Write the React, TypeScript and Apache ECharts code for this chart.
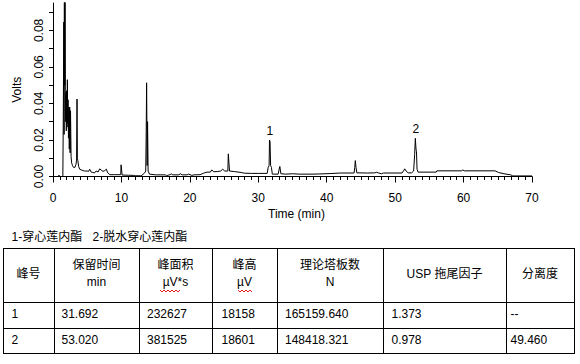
import React, { useEffect, useRef } from 'react';
import * as echarts from 'echarts';

// ---- chromatogram trace (time in min, signal in V) ----
const times = [
  0, 0.85, 0.88, 0.92, 1.44, 1.5, 1.58, 1.62, 1.66, 1.72, 1.76, 1.8, 1.86, 1.91, 1.95, 2.0, 2.05, 2.1, 2.15, 2.2,
  2.26, 2.32, 2.38, 2.44, 2.5, 2.56, 2.64, 2.72, 2.85, 3.0, 3.2, 3.35, 3.45, 3.51, 3.56, 3.62, 3.75, 3.9, 4.2, 4.6,
  5.0, 5.2, 5.36, 5.55, 5.8, 6.09, 6.3, 6.6, 6.82, 7.05, 7.3, 7.55, 7.8, 8.0, 8.3, 9.0, 9.9, 9.95, 10.05, 10.1,
  11.0, 11.8, 12.0, 12.8, 13.0, 13.4, 13.55, 13.62, 13.68, 13.76, 13.82, 13.9, 14.1, 15.0, 16.4, 16.6, 17.0, 17.3, 17.5, 18.4,
  18.6, 18.9, 19.6, 19.8, 20.3, 20.6, 21.5, 22.0, 22.5, 23.0, 23.2, 23.5, 24.0, 24.5, 24.8, 25.1, 25.55, 25.62, 25.7, 25.8,
  26.5, 27.5, 28.0, 29.0, 30.0, 31.3, 31.45, 31.58, 31.64, 31.72, 31.8, 31.92, 32.05, 32.9, 33.05, 33.15, 33.3, 34.0, 35.0, 36.0,
  38.0, 39.0, 40.5, 42.0, 44.0, 44.1, 44.18, 44.28, 44.4, 46.0, 47.0, 47.3, 47.6, 48.0, 48.3, 51.0, 51.3, 51.4, 51.6, 51.9,
  52.4, 52.7, 52.85, 52.95, 53.05, 53.12, 53.2, 53.35, 56.0, 56.1, 59.7, 59.9, 60.1, 64.6, 65.1, 65.9, 66.9, 67.2, 70.0
];
const volts = [
  0, 0, 0.0008, 0, 0, 0.03, 0.0845, 0.023, 0.12, 0.05, 0.12, 0.047, 0.03, 0.046, 0.025, 0.047, 0.027, 0.053, 0.029, 0.042,
  0.021, 0.038, 0.015, 0.038, 0.013, 0.036, 0.011, 0.0075, 0.006, 0.005, 0.005, 0.0065, 0.009, 0.0424, 0.01, 0.009, 0.0055, 0.004, 0.0035, 0.003,
  0.003, 0.0028, 0.004, 0.0025, 0.0022, 0.002, 0.003, 0.0025, 0.0042, 0.0035, 0.0028, 0.0032, 0.004, 0.002, 0.001, 0.001, 0.001, 0.0064, 0.0064, 0.0008,
  0.0007, 0.0006, 0.0004, 0.0004, 0.0007, 0.002, 0.003, 0.024, 0.0513, 0.006, 0.03, 0.003, 0.0013, 0.0009, 0.0009, 0.0005, 0.0009, 0.0014, 0.0009, 0.0009,
  0.0015, 0.0009, 0.0009, 0.0013, 0.0006, 0.0009, 0.001, 0.0018, 0.0024, 0.0024, 0.0036, 0.0026, 0.0027, 0.003, 0.004, 0.003, 0.003, 0.0124, 0.008, 0.003,
  0.0027, 0.0022, 0.0018, 0.0017, 0.0017, 0.0017, 0.005, 0.006, 0.02, 0.019, 0.006, 0.005, 0.0013, 0.0013, 0.004, 0.0055, 0.0015, 0.0013, 0.0015, 0.0013,
  0.0013, 0.0014, 0.0016, 0.0019, 0.0019, 0.005, 0.0087, 0.005, 0.002, 0.0019, 0.002, 0.0023, 0.0019, 0.0015, 0.0019, 0.0019, 0.0035, 0.0042, 0.003, 0.002,
  0.002, 0.003, 0.012, 0.0209, 0.015, 0.0136, 0.004, 0.0024, 0.0024, 0.0031, 0.0031, 0.0036, 0.0031, 0.0031, 0.0022, 0.0015, 0.0009, 0.0003, 0.0003
];

const peakNames = ['1', '2'];
const peakTimes = [31.692, 53.02];
const peakTops = [0.02, 0.0209];

const yTickValues = [0, 0.01, 0.02, 0.03, 0.04, 0.05, 0.06, 0.07, 0.08, 0.09];
const yLabelValues = [0, 0.02, 0.04, 0.06, 0.08];

// ---- legend text and result table ----
const compoundLabels = ['1-穿心莲内酯', '2-脱水穿心莲内酯'];
const headerLines = [
  ['峰号'],
  ['保留时间', 'min'],
  ['峰面积', 'µV*s'],
  ['峰高', 'µV'],
  ['理论塔板数', 'N'],
  ['USP 拖尾因子'],
  ['分离度'],
];
const peakNumbers = ['1', '2'];
const retentionTimes = ['31.692', '53.020'];
const peakAreas = ['232627', '381525'];
const peakHeights = ['18158', '18601'];
const plateCounts = ['165159.640', '148418.321'];
const tailingFactors = ['1.373', '0.978'];
const resolutions = ['--', '49.460'];

const FONT = '"Liberation Sans", Arial, "Noto Sans CJK SC", sans-serif';

function buildGraphic() {
  const colX = [3, 54, 139, 212, 277, 383, 506, 574];
  const rowY = [248, 302, 328, 353];
  const cellPad = [8.5, 7.5, 8, 9.5, 8, 8.5, 4.5];
  const els: any[] = [];
  const txt = (x: number, y: number, text: string, align: string) => ({
    type: 'text',
    x,
    y,
    silent: true,
    style: {
      text,
      fill: '#000',
      fontSize: 12,
      fontFamily: FONT,
      align,
      verticalAlign: 'middle',
      textAlign: align,
      textVerticalAlign: 'middle',
    },
  });

  // legend line
  const legendX = [11.5, 92.5];
  compoundLabels.forEach((t, i) => els.push(txt(legendX[i], 236.5, t, 'left')));

  // grid lines
  rowY.forEach((y) =>
    els.push({
      type: 'line',
      silent: true,
      shape: { x1: colX[0], y1: y + 0.5, x2: colX[colX.length - 1] + 1, y2: y + 0.5 },
      style: { stroke: '#000', lineWidth: 1 },
    })
  );
  colX.forEach((x) =>
    els.push({
      type: 'line',
      silent: true,
      shape: { x1: x + 0.5, y1: rowY[0], x2: x + 0.5, y2: rowY[rowY.length - 1] + 1 },
      style: { stroke: '#000', lineWidth: 1 },
    })
  );

  // header
  const headMid = (rowY[0] + rowY[1]) / 2 - 1.5;
  headerLines.forEach((lines, c) => {
    const cx = (colX[c] + colX[c + 1]) / 2;
    if (lines.length === 1) {
      els.push(txt(cx, headMid, lines[0], 'center'));
    } else {
      els.push(txt(cx, headMid - 8.5, lines[0], 'center'));
      els.push(txt(cx, headMid + 8.5, lines[1], 'center'));
    }
  });

  // red spell-check squiggles under the µV units
  const squiggle = (x0: number, x1: number, y: number) => {
    const pts: number[][] = [];
    let up = true;
    for (let x = x0; x <= x1; x += 2) {
      pts.push([x, up ? y : y + 2]);
      up = !up;
    }
    return {
      type: 'polyline',
      silent: true,
      shape: { points: pts },
      style: { stroke: '#e02020', lineWidth: 1, fill: null },
    };
  };
  els.push(squiggle(160, 180, 290));
  els.push(squiggle(238, 253, 290));

  // body rows
  const cols = [peakNumbers, retentionTimes, peakAreas, peakHeights, plateCounts, tailingFactors, resolutions];
  for (let r = 0; r < peakNumbers.length; r++) {
    const cy = (rowY[r + 1] + rowY[r + 2]) / 2 - 1;
    cols.forEach((col, c) => els.push(txt(colX[c] + cellPad[c], cy, col[r], 'left')));
  }
  return els;
}

export default function App() {
  const ref = useRef<HTMLDivElement>(null);
  useEffect(() => {
    if (!ref.current) return;
    const chart = echarts.init(ref.current, undefined, { renderer: 'svg' });
    const data = times.map((t, i) => [t, volts[i]]);
    chart.setOption({
      animation: false,
      backgroundColor: '#fff',
      textStyle: { fontFamily: FONT },
      grid: { left: 53, right: 48, top: 3, bottom: 187.5, containLabel: false },
      xAxis: {
        type: 'value',
        min: 0,
        max: 70,
        interval: 10,
        offset: 6.5,
        axisLine: { show: true, lineStyle: { color: '#000', width: 1 } },
        axisTick: { show: true, length: 6, lineStyle: { color: '#000', width: 1 } },
        minorTick: { show: true, splitNumber: 10, length: 3.5, lineStyle: { color: '#000', width: 1 } },
        splitLine: { show: false },
        minorSplitLine: { show: false },
        axisLabel: { color: '#000', fontSize: 12, fontFamily: FONT, margin: 9 },
        name: 'Time (min)',
        nameLocation: 'middle',
        nameGap: 25,
        nameTextStyle: { color: '#000', fontSize: 12, fontFamily: FONT, padding: [0, 0, 0, 8] },
      },
      yAxis: {
        type: 'value',
        min: 0,
        max: 0.095,
        interval: 0.01,
        axisLine: { show: true, lineStyle: { color: '#000', width: 1 } },
        axisTick: { show: true, length: 4, customValues: yTickValues, lineStyle: { color: '#000', width: 1 } },
        splitLine: { show: false },
        axisLabel: {
          color: '#000',
          fontSize: 12,
          fontFamily: FONT,
          rotate: 90,
          margin: 8,
          customValues: yLabelValues,
          formatter: (v: number) => {
            const k = Math.round(v * 100);
            return Math.abs(v * 100 - k) < 1e-6 && k % 2 === 0 && k <= 8 ? v.toFixed(2) : '';
          },
        },
        name: 'Volts',
        nameLocation: 'middle',
        nameRotate: 90,
        nameGap: 30,
        nameTextStyle: { color: '#000', fontSize: 12, fontFamily: FONT },
      },
      series: [
        {
          type: 'line',
          data,
          symbol: 'none',
          showSymbol: false,
          clip: true,
          lineStyle: { color: '#000', width: 1 },
          markPoint: {
            symbol: 'circle',
            symbolSize: 0,
            silent: true,
            label: {
              show: true,
              position: 'top',
              distance: 3,
              color: '#000',
              fontSize: 12,
              fontFamily: FONT,
              formatter: (p: any) => p.name,
            },
            data: peakNames.map((n, i) => ({ name: n, coord: [peakTimes[i], peakTops[i]] })),
          },
        },
      ],
      graphic: buildGraphic(),
    });
    return () => chart.dispose();
  }, []);
  return (
    <div
      ref={ref}
      style={{ position: 'absolute', left: 0, top: 0, width: 580, height: 364, background: '#fff' }}
    />
  );
}
